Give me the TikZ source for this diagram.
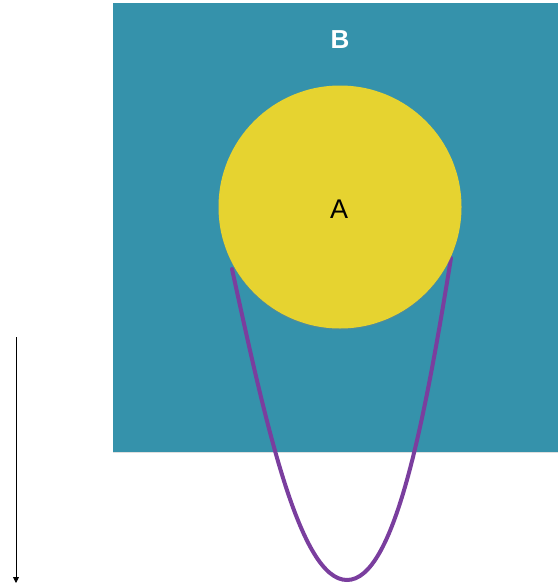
\documentclass[tikz,border=0pt]{standalone}
\usepackage{fontspec}
\setmainfont{Liberation Sans}
\usetikzlibrary{shadows,arrows.meta}
\definecolor{bluebg}{HTML}{3592AB}
\definecolor{yellowc}{HTML}{E6D330}
\definecolor{purplec}{HTML}{7A3E9E}
\tikzset{
  setbox/.style={fill=bluebg, draw=none, drop shadow={shadow xshift=0pt, shadow yshift=-1pt, opacity=0.25}},
  setcircle/.style={circle, fill=yellowc, draw=none, minimum size=243pt, inner sep=0pt, drop shadow={shadow xshift=0pt, shadow yshift=-1.5pt, opacity=0.3}},
  curveline/.style={draw=purplec, line width=4pt, line cap=round},
  axisarrow/.style={draw=black, line width=0.9pt, -{Triangle[length=6pt,width=6pt]}}
}
\begin{document}
\begin{tikzpicture}[x=1pt,y=-1pt]
\useasboundingbox (0,0) rectangle (558,586);
\path[setbox] (113,3) rectangle (558,452);
\coordinate (cl) at (232,269);
\coordinate (cb) at (347,580);
\coordinate (cr) at (451,258);
\draw[curveline] (cl) .. controls (266,425) and (300,580) .. (cb) .. controls (394,580) and (424,425) .. (cr);
\node[setcircle] (A) at (340,207) {};
\node[font=\fontsize{27}{30}\selectfont] (Alab) at (339,209) {A};
\node[font=\fontsize{26}{30}\selectfont\bfseries, text=white] (Blab) at (340,40) {B};
\coordinate (as) at (16,337);
\coordinate (ae) at (16,583);
\draw[axisarrow] (as) -- (ae);
\end{tikzpicture}
\end{document}
